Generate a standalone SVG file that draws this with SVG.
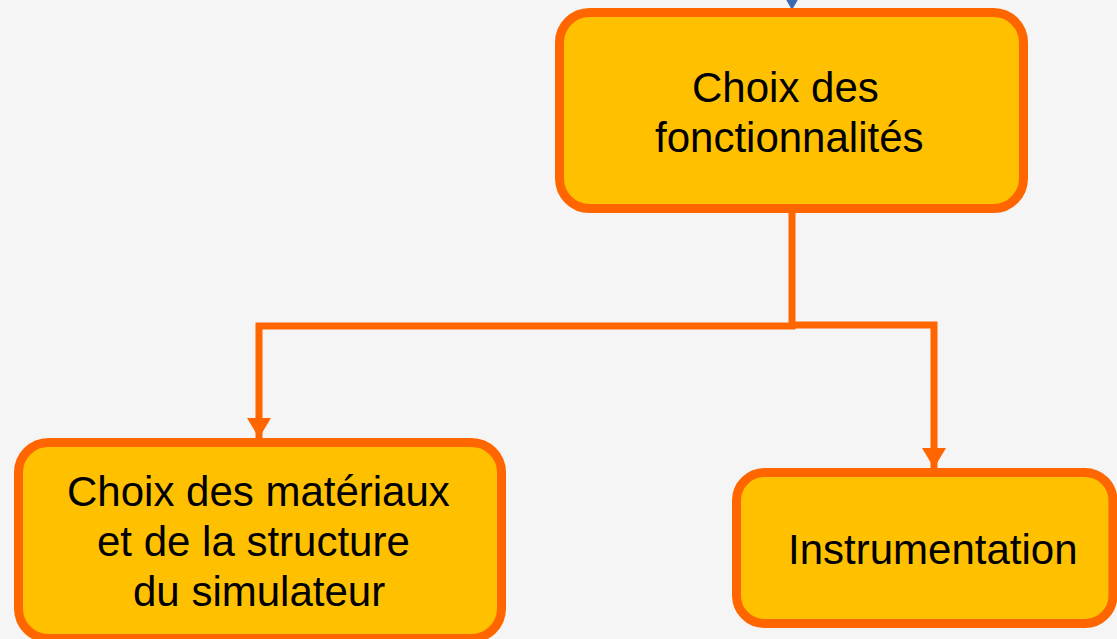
<svg xmlns="http://www.w3.org/2000/svg" width="1117" height="639" viewBox="0 0 1117 639">
  <defs>
    <style>
      .box { fill: #FFC000; stroke: #FF6600; stroke-width: 9; }
      .lbl { font-family: "Liberation Sans", Arial, sans-serif; font-size: 42px; fill: #000000; }
      .wire { fill: none; stroke: #FF6600; stroke-width: 7; stroke-linejoin: miter; }
    </style>
    <marker id="arrow" markerUnits="userSpaceOnUse" markerWidth="22" markerHeight="26" refX="20" refY="12" orient="auto">
      <path d="M0,0 L20,12 L0,24 Z" fill="#FF6600"/>
    </marker>
  </defs>

  <rect width="1117" height="639" fill="#F5F5F5"/>

  <!-- incoming arrow from the step above -->
  <polygon points="784,-4 800,-4 792,10" fill="#3D6AB0"/>

  <g id="connectors">
    <path class="wire" d="M792,213 V326 H259 V438" marker-end="url(#arrow)"/>
    <path class="wire" d="M792,325 H934 V468" marker-end="url(#arrow)"/>
  </g>

  <g id="node-fonctionnalites">
    <rect class="box" x="559.5" y="12.5" width="464" height="196" rx="30"/>
    <text class="lbl" x="692" y="102">Choix des</text>
    <text class="lbl" x="655" y="152">fonctionnalités</text>
  </g>

  <g id="node-materiaux">
    <rect class="box" x="18.5" y="442.5" width="483" height="196" rx="30"/>
    <text class="lbl" x="67" y="506">Choix des matériaux</text>
    <text class="lbl" x="97" y="556">et de la structure</text>
    <text class="lbl" x="133" y="606">du simulateur</text>
  </g>

  <g id="node-instrumentation">
    <rect class="box" x="736.5" y="472.5" width="376.5" height="151" rx="28"/>
    <text class="lbl" x="788" y="564">Instrumentation</text>
  </g>
</svg>
